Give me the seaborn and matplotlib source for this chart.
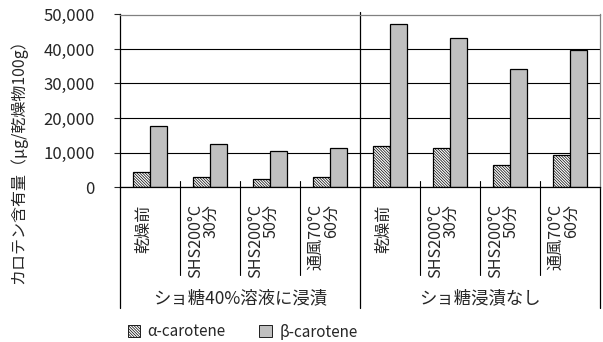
import pandas as pd
import numpy as np
import matplotlib
matplotlib.use("Agg")
import matplotlib.pyplot as plt
from matplotlib.patches import Patch
import seaborn as sns

# data
groups = ["ショ糖40%溶液に浸漬", "ショ糖浸漬なし"]
conditions = ["乾燥前", "SHS200°C\n30分", "SHS200°C\n50分", "通風70°C\n60分"]
alpha_carotene = [4400, 2800, 2400, 2800, 12000, 11200, 6500, 9200]
beta_carotene = [17800, 12400, 10400, 11400, 47200, 43100, 34200, 39800]
series = ["α-carotene", "β-carotene"]
yticks = [0, 10000, 20000, 30000, 40000, 50000]

keys = [f"{g}|{c}" for g in groups for c in conditions]
df = pd.DataFrame({
    "key": keys * 2,
    "value": alpha_carotene + beta_carotene,
    "series": [series[0]] * len(keys) + [series[1]] * len(keys),
})

sns.set_style("white")
plt.rcParams["font.family"] = ["Noto Sans CJK JP", "DejaVu Sans"]
plt.rcParams["hatch.linewidth"] = 0.5

HATCH = "\\" * 12

fig = plt.figure(figsize=(6.03, 3.42), dpi=100)
ax = fig.add_axes([120 / 603, 155 / 342, 480 / 603, 172.5 / 342])

sns.barplot(data=df, x="key", y="value", hue="series", order=keys,
            palette=["white", "#c0c0c0"], width=0.57, edgecolor="black",
            linewidth=0.9, legend=False, ax=ax)

for p in ax.containers[0]:
    p.set_hatch(HATCH)

ax.set_xlim(-0.5, len(keys) - 0.5)
ax.set_ylim(0, 50000)
ax.set_yticks(yticks)
ax.set_yticklabels([f"{v:,}" for v in yticks], fontsize=12)
ax.tick_params(axis="y", length=4, width=0.8, pad=14, left=True, direction="out")
ax.set_xticks([])
ax.set_xlabel("")
ax.set_ylabel("")

ax.set_axisbelow(True)
ax.yaxis.grid(True, color="black", linewidth=0.8)
ax.get_ygridlines()[-1].set_visible(False)
for s in ["left", "bottom"]:
    ax.spines[s].set_color("black")
    ax.spines[s].set_linewidth(0.9)
for s in ["top", "right"]:
    ax.spines[s].set_color("#808080")
    ax.spines[s].set_linewidth(0.9)

tr = ax.get_xaxis_transform()
n = len(conditions)
# separators between categories
for i in range(len(keys) - 1):
    if (i + 1) % n == 0:
        continue
    ax.plot([i + 0.5, i + 0.5], [0.035, -0.512], color="black", lw=0.8,
            transform=tr, clip_on=False)
# separators between groups
ax.plot([-0.5, -0.5], [0, -0.70], color="black", lw=0.9, transform=tr, clip_on=False)
ax.plot([len(keys) - 0.5] * 2, [0, -0.70], color="black", lw=0.9, transform=tr, clip_on=False)
for gi in range(1, len(groups)):
    xg = gi * n - 0.5
    ax.plot([xg, xg], [1.012, -0.70], color="black", lw=0.9, transform=tr, clip_on=False)

# category labels
for i, k in enumerate(keys):
    cond = k.split("|")[1]
    ax.text(i - 0.1, -0.1, cond, rotation=90, ha="center", va="top",
            multialignment="right", fontsize=11.6, transform=tr, linespacing=0.95)

# group labels
for gi, g in enumerate(groups):
    ax.text(gi * n + (n - 1) / 2, -0.645, g, ha="center", va="center",
            fontsize=12.5, transform=tr)

fig.text(18 / 603, 1 - 158 / 342, "カロテン含有量（μg/乾燥物100g）", rotation=90,
         ha="center", va="center", fontsize=11.5)

handles = [Patch(facecolor="white", edgecolor="black", hatch=HATCH, linewidth=0.6),
           Patch(facecolor="#c0c0c0", edgecolor="black", linewidth=0.6)]
fig.legend(handles, series, loc="center left", bbox_to_anchor=(114 / 603, 1 - 332 / 342),
           ncol=2, frameon=False, fontsize=11, handlelength=0.8, handleheight=0.8,
           handletextpad=0.5, columnspacing=2.2)

fig.savefig("out.png", dpi=100)
